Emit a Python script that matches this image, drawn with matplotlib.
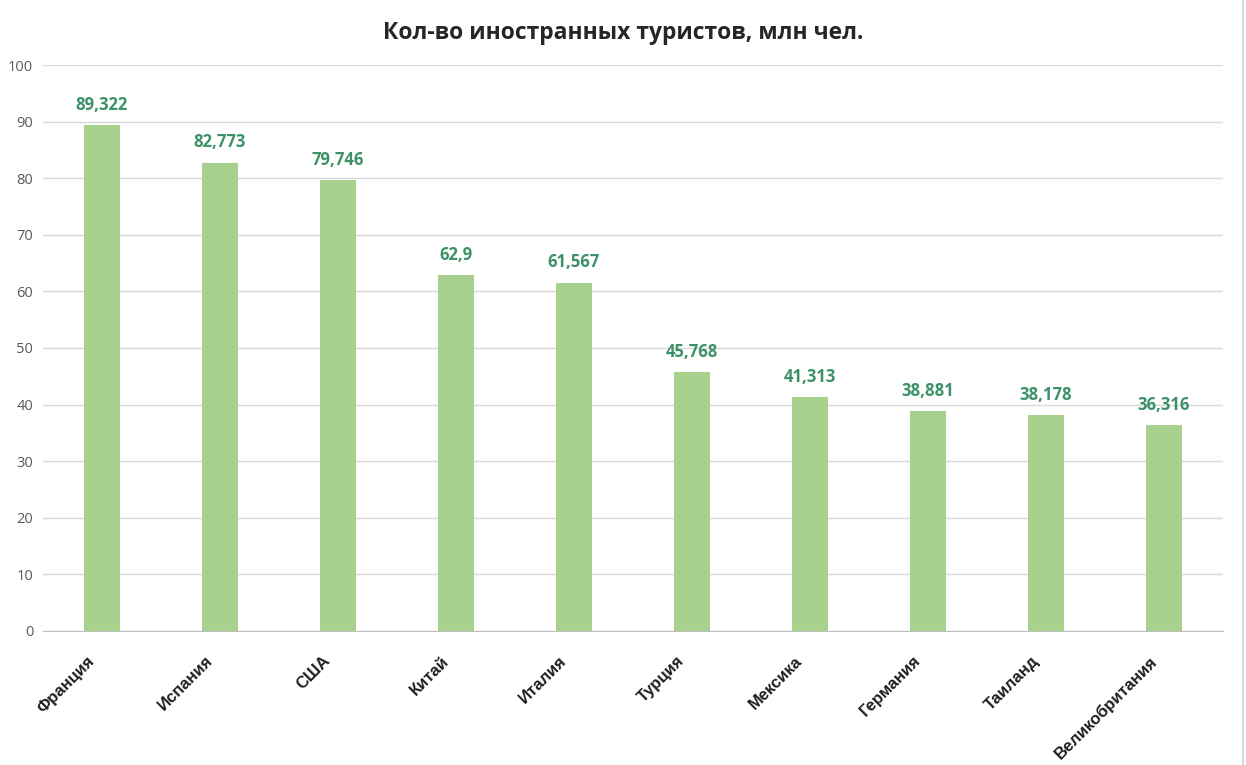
import matplotlib
import numpy as np
import matplotlib.pyplot as plt
import matplotlib.transforms as mtransforms
matplotlib.use('Agg')

# Данные
countries = ['Франция', 'Испания', 'США', 'Китай', 'Италия',
             'Турция', 'Мексика', 'Германия', 'Таиланд', 'Великобритания']
tourists = [89.322, 82.773, 79.746, 62.9, 61.567, 45.768, 41.313, 38.881, 38.178, 36.316]
value_labels = ['89,322', '82,773', '79,746', '62,9', '61,567',
                '45,768', '41,313', '38,881', '38,178', '36,316']
y_ticks = [0, 10, 20, 30, 40, 50, 60, 70, 80, 90, 100]

fig = plt.figure(figsize=(12.46, 7.65), dpi=100)
ax = fig.add_axes([0.0345, 0.1752, 0.947, 0.7398])

x = np.arange(len(countries))
bars = ax.bar(x, tourists, width=0.31, color='#a9d18e', zorder=3)

for bar, lab in zip(bars, value_labels):
    ax.annotate(lab, (bar.get_x() + bar.get_width() / 2, bar.get_height()),
                xytext=(0, 8), textcoords='offset points', ha='center', va='bottom',
                fontsize=12, fontweight='bold', color='#3c9168', family='Open Sans')

ax.set_xlim(-0.5, len(countries) - 0.5)
ax.set_ylim(0, 100)
ax.set_yticks(y_ticks)
ax.set_yticklabels([str(t) for t in y_ticks], fontsize=10.5, color='#595959', family='Open Sans')
ax.yaxis.grid(True, color='#d9d9d9', linewidth=1, zorder=0)
ax.tick_params(axis='both', length=0)
ax.tick_params(axis='y', pad=7)

ax.set_xticks(x)
ax.set_xticklabels(countries, rotation=45, ha='right', rotation_mode='anchor',
                   fontsize=12, fontweight='bold', color='#1f1f1f', family='Liberation Sans')
ax.tick_params(axis='x', pad=16)
# сдвиг подписей влево
shift = mtransforms.ScaledTranslation(-0.15, 0, fig.dpi_scale_trans)
for lbl in ax.get_xticklabels():
    lbl.set_transform(lbl.get_transform() + shift)

for side in ['top', 'right', 'left']:
    ax.spines[side].set_visible(False)
ax.spines['bottom'].set_color('#bfbfbf')

fig.text(0.5, 0.957, 'Кол-во иностранных туристов, млн чел.', ha='center', va='center',
         fontsize=16.5, fontweight='bold', color='#262626', family='Open Sans')

fig.add_artist(plt.Line2D([0.9976, 0.9976], [0, 1], color='#d9d9d9', linewidth=1.5))

fig.savefig('out.png', dpi=100)
